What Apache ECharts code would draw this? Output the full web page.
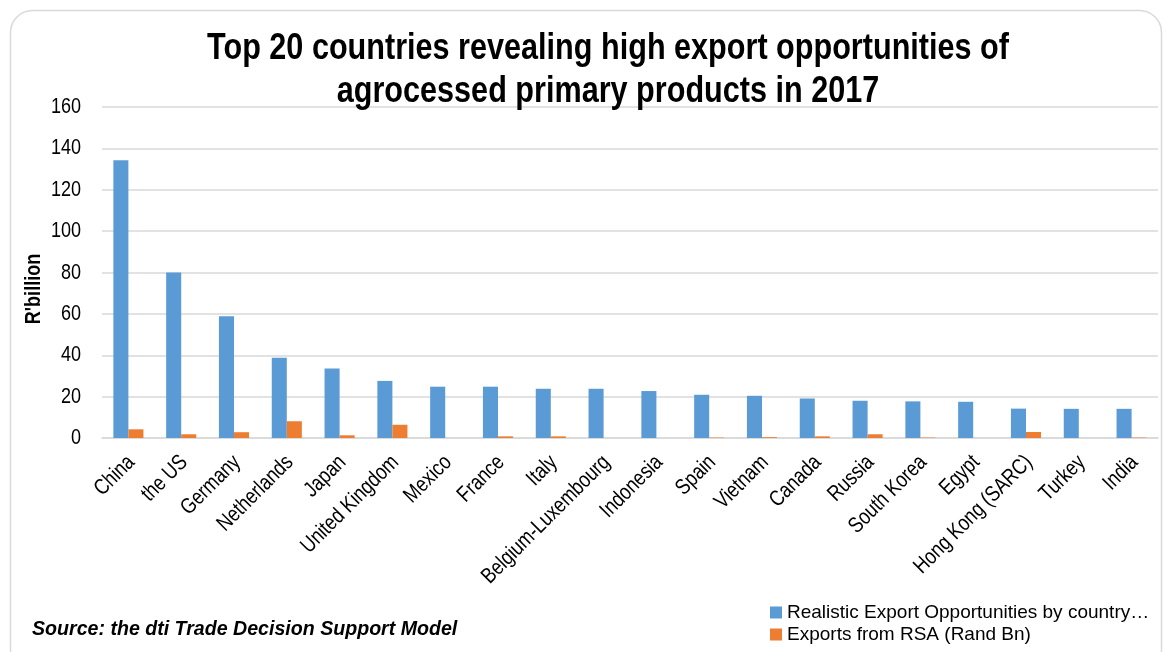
<!DOCTYPE html>
<html>
<head>
<meta charset="utf-8">
<title>Agroprocessed primary products export opportunities 2017</title>
<script src="https://cdn.jsdelivr.net/npm/echarts@6/dist/echarts.min.js"></script>
<style>
  html, body { margin: 0; padding: 0; background: #ffffff; }
  #chart { width: 1164px; height: 652px; }
</style>
</head>
<body>
<div id="chart"></div>
<script>
// Countries, ranked by realistic export opportunity
const countries = ['China', 'the US', 'Germany', 'Netherlands', 'Japan', 'United Kingdom', 'Mexico', 'France', 'Italy',
  'Belgium-Luxembourg', 'Indonesia', 'Spain', 'Vietnam', 'Canada', 'Russia', 'South Korea', 'Egypt',
  'Hong Kong (SARC)', 'Turkey', 'India'];

// Realistic export opportunities (R billion)
const opportunities = [134.3, 80, 58.8, 38.8, 33.6, 27.6, 24.8, 24.8, 23.8, 23.8, 22.7, 20.9, 20.4, 19.1, 18, 17.7, 17.5, 14.2, 14.1, 14.1];

// Exports from RSA (R billion)
const rsaExports = [4.2, 1.8, 2.8, 8.1, 1.3, 6.4, 0, 0.8, 0.8, 0, 0, 0.2, 0.4, 0.8, 1.8, 0.2, 0, 2.9, 0, 0.2];

const seriesNames = ['Realistic Export Opportunities by country (Rand Bn)', 'Exports from RSA (Rand Bn)'];
const yTicks = [0, 20, 40, 60, 80, 100, 120, 140, 160];

const titleLines = ['Top 20 countries revealing high export opportunities of', 'agrocessed primary products in 2017'];
const yAxisTitle = "R'billion";
const sourceNote = 'Source: the dti Trade Decision Support Model';

// Longest legend label kept before the ellipsis
const LEGEND_MAX_CHARS = 41;

const chart = echarts.init(document.getElementById('chart'), null, { renderer: 'canvas' });

const base = "'Liberation Sans', Arial, sans-serif";
// Narrow look: regular face squeezed horizontally
const NARROW = 0.82;

chart.setOption({
  animation: false,
  backgroundColor: '#ffffff',
  legend: {
    orient: 'vertical',
    left: 765,
    bottom: 3,
    itemWidth: 12,
    itemHeight: 12,
    itemGap: 3,
    icon: 'rect',
    formatter: (name) => name.length > LEGEND_MAX_CHARS
      ? name.slice(0, LEGEND_MAX_CHARS).trimEnd() + '…'
      : name,
    textStyle: {
      fontFamily: base,
      fontSize: 19,
      color: '#000000'
    },
    data: seriesNames
  },
  grid: {
    left: 102,
    right: 6,
    top: 107,
    bottom: 214,
    containLabel: false
  },
  xAxis: {
    type: 'category',
    data: countries,
    axisLine: { lineStyle: { color: '#d9d9d9', width: 1.5 } },
    axisTick: { show: false },
    axisLabel: { show: false }
  },
  yAxis: {
    type: 'value',
    min: yTicks[0],
    max: yTicks[yTicks.length - 1],
    interval: yTicks[1] - yTicks[0],
    axisLine: { show: false },
    axisTick: { show: false },
    splitLine: { lineStyle: { color: '#d9d9d9', width: 1.5 } },
    axisLabel: { show: false }
  },
  series: [{
    name: seriesNames[0],
    type: 'bar',
    data: opportunities,
    barGap: '0%',
    barCategoryGap: '43%',
    itemStyle: { color: '#5b9bd5' }
  }, {
    name: seriesNames[1],
    type: 'bar',
    data: rsaExports,
    itemStyle: { color: '#ed7d31' }
  }]
});

// Condensed texts (title, axis labels) placed from the chart's own axes
const graphics = [{
  type: 'rect',
  shape: { x: 10.5, y: 10.5, width: 1151, height: 680, r: 22 },
  style: { fill: 'none', stroke: '#d9d9d9', lineWidth: 1.5 },
  z: -1
}, {
  type: 'text',
  x: 32,
  y: 630,
  style: {
    text: sourceNote,
    font: "italic bold 19.6px 'Liberation Sans', Arial, sans-serif",
    fill: '#000000',
    verticalAlign: 'middle'
  }
}];

titleLines.forEach((line, i) => {
  graphics.push({
    type: 'text',
    x: 608,
    y: 49 + i * 43,
    scaleX: 0.85,
    style: {
      text: line,
      font: "bold 36px 'Liberation Sans', Arial, sans-serif",
      fill: '#000000',
      align: 'center',
      verticalAlign: 'middle'
    }
  });
});

graphics.push({
  type: 'text',
  x: 34,
  y: 289,
  rotation: Math.PI / 2,
  scaleX: NARROW,
  style: {
    text: yAxisTitle,
    font: "bold 22px 'Liberation Sans', Arial, sans-serif",
    fill: '#000000',
    align: 'center',
    verticalAlign: 'middle'
  }
});

yTicks.forEach((v) => {
  const py = chart.convertToPixel({ yAxisIndex: 0 }, v);
  graphics.push({
    type: 'text',
    x: 81,
    y: py,
    scaleX: NARROW,
    style: {
      text: String(v),
      font: "22px 'Liberation Sans', Arial, sans-serif",
      fill: '#000000',
      align: 'right',
      verticalAlign: 'middle'
    }
  });
});

const axisY = chart.convertToPixel({ yAxisIndex: 0 }, 0);
countries.forEach((name, i) => {
  const px = chart.convertToPixel({ xAxisIndex: 0 }, i);
  graphics.push({
    type: 'text',
    x: px + 3,
    y: axisY + 21,
    rotation: Math.PI / 4,
    scaleX: NARROW,
    style: {
      text: name,
      font: "22px 'Liberation Sans', Arial, sans-serif",
      fill: '#000000',
      align: 'right',
      verticalAlign: 'middle'
    }
  });
});

chart.setOption({ graphic: graphics });
</script>
</body>
</html>
